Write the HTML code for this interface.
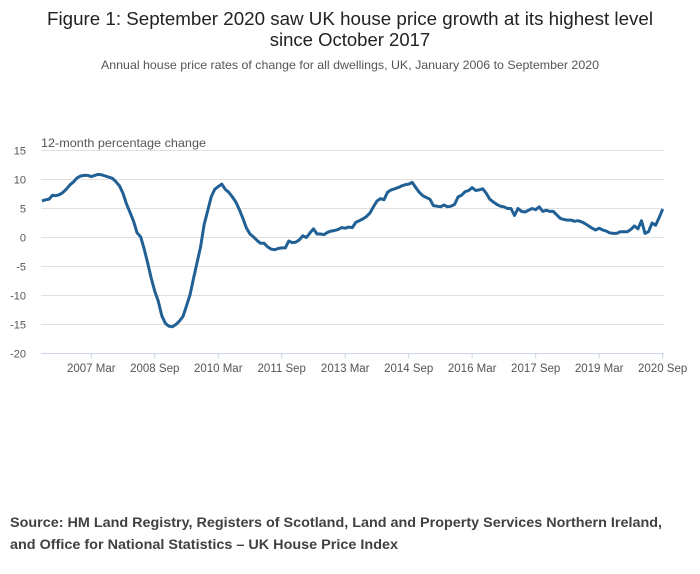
<!DOCTYPE html>
<html><head><meta charset="utf-8"><style>
body{margin:0;background:#fff;width:700px;height:574px;overflow:hidden;font-family:"Liberation Sans",sans-serif}
svg{display:block}
</style></head><body>
<svg width="700" height="574">
<text x="350" y="25" text-anchor="middle" font-size="18.5" fill="#222" textLength="606" lengthAdjust="spacingAndGlyphs">Figure 1: September 2020 saw UK house price growth at its highest level</text>
<text x="350" y="46" text-anchor="middle" font-size="18.5" fill="#222">since October 2017</text>
<text x="350" y="69" text-anchor="middle" font-size="12" fill="#555" textLength="498" lengthAdjust="spacingAndGlyphs">Annual house price rates of change for all dwellings, UK, January 2006 to September 2020</text>
<text x="41" y="147" font-size="12" fill="#555" textLength="165" lengthAdjust="spacingAndGlyphs">12-month percentage change</text>
<g id="grid"></g><g id="yticks"></g><g id="xticks"></g>
<path id="line" fill="none" stroke="#206095" stroke-width="3" stroke-linejoin="round"></path>
<text x="10" y="527" font-size="13.5" font-weight="bold" fill="#414042" textLength="652" lengthAdjust="spacingAndGlyphs">Source: HM Land Registry, Registers of Scotland, Land and Property Services Northern Ireland,</text>
<text x="10" y="549" font-size="13.5" font-weight="bold" fill="#414042" textLength="388" lengthAdjust="spacingAndGlyphs">and Office for National Statistics – UK House Price Index</text>
</svg>
<script>
const yTicks=[15,10,5,0,-5,-10,-15,-20];
const xTickLabels=["2007 Mar","2008 Sep","2010 Mar","2011 Sep","2013 Mar","2014 Sep","2016 Mar","2017 Sep","2019 Mar","2020 Sep"];
const xTickMonths=[14,32,50,68,86,104,122,140,158,176];
const values=[6.3,6.5,6.6,7.3,7.2,7.4,7.8,8.4,9.1,9.6,10.3,10.6,10.7,10.7,10.5,10.7,10.9,10.8,10.6,10.4,10.2,9.6,8.9,7.6,5.8,4.3,2.8,0.8,0.1,-2.0,-4.4,-7.0,-9.3,-11.0,-13.5,-14.8,-15.3,-15.4,-15.0,-14.4,-13.6,-11.8,-9.9,-7.0,-4.3,-1.6,2.2,4.6,7.0,8.3,8.8,9.2,8.3,7.8,7.0,6.1,4.8,3.3,1.6,0.6,0.1,-0.5,-1.0,-1.0,-1.6,-2.0,-2.1,-1.9,-1.8,-1.8,-0.6,-0.9,-0.8,-0.4,0.3,0.0,0.8,1.5,0.6,0.6,0.5,0.9,1.1,1.2,1.4,1.7,1.6,1.8,1.7,2.6,2.9,3.2,3.6,4.2,5.3,6.3,6.7,6.5,7.8,8.2,8.4,8.6,8.9,9.1,9.2,9.5,8.6,7.8,7.2,6.9,6.6,5.5,5.4,5.3,5.6,5.3,5.4,5.7,7.0,7.3,7.9,8.1,8.6,8.1,8.2,8.4,7.6,6.6,6.1,5.7,5.4,5.3,5.0,5.0,3.8,5.0,4.5,4.4,4.7,5.0,4.8,5.3,4.5,4.7,4.5,4.5,3.9,3.3,3.1,3.0,3.0,2.8,2.9,2.7,2.4,2.0,1.6,1.3,1.6,1.3,1.1,0.8,0.7,0.7,1.0,1.0,1.0,1.4,2.0,1.5,2.9,0.7,1.0,2.5,2.1,3.4,4.9];
const NS="http://www.w3.org/2000/svg";
const X=m=>41.9+m*3.527;
const Y=v=>237.5-v*5.8;
function mk(t,a,p){const e=document.createElementNS(NS,t);for(const k in a)e.setAttribute(k,a[k]);p.appendChild(e);return e;}
const g=document.getElementById('grid'),yt=document.getElementById('yticks'),xt=document.getElementById('xticks');
yTicks.forEach(v=>{
 const l=mk('line',{x1:41,x2:664,y1:Y(v),y2:Y(v),stroke:v===-20?'#ccd6e6':'#e0e0e0','stroke-width':1},g);
 
 
 const t=mk('text',{x:26,y:Y(v)+4,'text-anchor':'end','font-size':11,fill:'#555'},yt);
 t.textContent=v;
 
 
});
xTickMonths.forEach((m,i)=>{
 const l=mk('line',{x1:X(m),x2:X(m),y1:Y(-20),y2:Y(-20)+5,stroke:'#ccd6e6'},xt);
 
 
 const t=mk('text',{x:X(m),y:372,'text-anchor':'middle','font-size':11.5,fill:'#555'},xt);
 t.textContent=xTickLabels[i];
 
 
});
document.getElementById('line').setAttribute('d',values.map((v,i)=>(i?'L':'M')+X(i).toFixed(1)+','+Y(v).toFixed(1)).join(''));
</script>
</body></html>
